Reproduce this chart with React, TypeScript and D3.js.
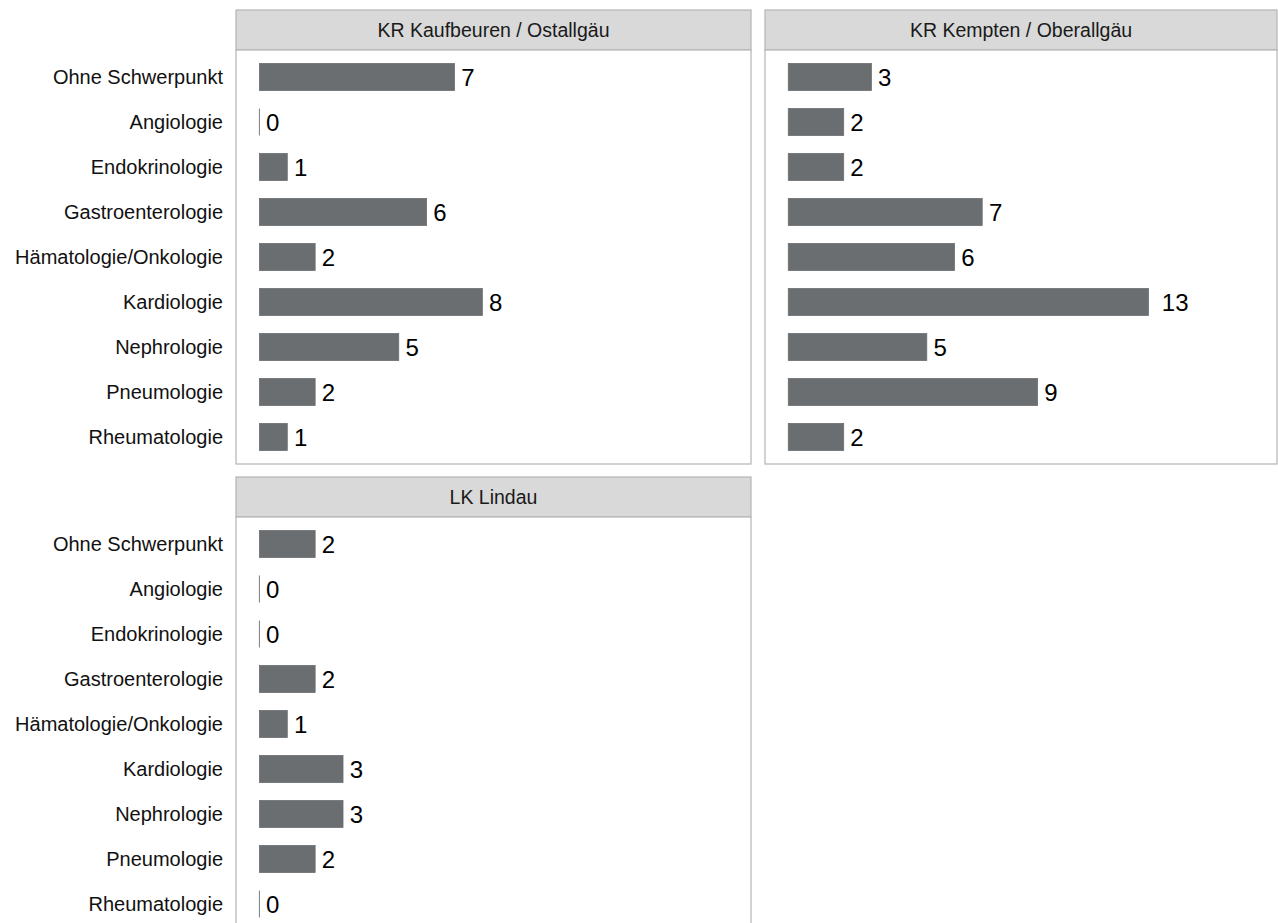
import React from "react";
import * as d3 from "d3";

const categories = [
  "Ohne Schwerpunkt",
  "Angiologie",
  "Endokrinologie",
  "Gastroenterologie",
  "Hämatologie/Onkologie",
  "Kardiologie",
  "Nephrologie",
  "Pneumologie",
  "Rheumatologie",
];

const panelTitles = ["KR Kaufbeuren / Ostallgäu", "KR Kempten / Oberallgäu", "LK Lindau"];
const kaufbeurenValues = [7, 0, 1, 6, 2, 8, 5, 2, 1];
const kemptenValues = [3, 2, 2, 7, 6, 13, 5, 9, 2];
const lindauValues = [2, 0, 0, 2, 1, 3, 3, 2, 0];

const panels = [
  { title: panelTitles[0], values: kaufbeurenValues, x0: 236, x1: 751, top: 10 },
  { title: panelTitles[1], values: kemptenValues, x0: 765, x1: 1277, top: 10 },
  { title: panelTitles[2], values: lindauValues, x0: 236, x1: 751, top: 477 },
];

const STRIP_H = 40;
const PLOT_H = 414;
const X_MAX = 16.8;
const BAR_COLOR = "#6b6e70";
const BORDER = "#b5b5b5";
const FONT = "'Liberation Sans', Arial, Helvetica, sans-serif";
const VALUE_FS = 24;

function Panel({ p, showAxis }: { p: any; showAxis: boolean }) {
  const plotTop = p.top + STRIP_H;
  const expand = X_MAX * 0.05;
  const x = d3.scaleLinear().domain([-expand, X_MAX + expand]).range([p.x0, p.x1]);
  const y = d3.scalePoint<string>().domain(categories).range([plotTop, plotTop + PLOT_H]).padding(0.6);
  const step = y.step();
  const barH = step * 0.6;
  return (
    <g>
      <rect x={p.x0} y={p.top} width={p.x1 - p.x0} height={STRIP_H} fill="#d9d9d9" stroke={BORDER} strokeWidth={1.2} />
      <text
        x={(p.x0 + p.x1) / 2}
        y={p.top + STRIP_H / 2}
        dy="0.36em"
        textAnchor="middle"
        fontSize={19.5}
        fill="#1a1a1a"
        fontFamily={FONT}
      >
        {p.title}
      </text>
      <rect x={p.x0} y={plotTop} width={p.x1 - p.x0} height={PLOT_H} fill="white" stroke={BORDER} strokeWidth={1.2} />
      {categories.map((c, i) => {
        const v = p.values[i];
        const cy = y(c)!;
        const label = String(v);
        const tw = label.length * 0.556 * VALUE_FS;
        return (
          <g key={c}>
            {v > 0 ? (
              <rect
                x={x(0)}
                y={cy - barH / 2}
                width={x(v) - x(0)}
                height={barH}
                fill={BAR_COLOR}
                stroke={BAR_COLOR}
                strokeWidth={0.8}
              />
            ) : (
              <line
                x1={x(0)}
                x2={x(0)}
                y1={cy - barH / 2}
                y2={cy + barH / 2}
                stroke={BAR_COLOR}
                strokeWidth={0.9}
              />
            )}
            <text
              x={x(v) + tw * 0.5}
              y={cy}
              dy="0.36em"
              fontSize={VALUE_FS}
              fill="#000"
              fontFamily={FONT}
            >
              {label}
            </text>
            {showAxis && (
              <text
                x={p.x0 - 13}
                y={cy}
                dy="0.36em"
                textAnchor="end"
                fontSize={20}
                fill="#111"
                fontFamily={FONT}
              >
                {c}
              </text>
            )}
          </g>
        );
      })}
    </g>
  );
}

export default function App() {
  return (
    <div style={{ position: "absolute", left: 0, top: 0 }}>
      <svg width={1278} height={923} style={{ display: "block", background: "white" }}>
        {panels.map((p, i) => (
          <Panel key={p.title} p={p} showAxis={i !== 1} />
        ))}
      </svg>
    </div>
  );
}
